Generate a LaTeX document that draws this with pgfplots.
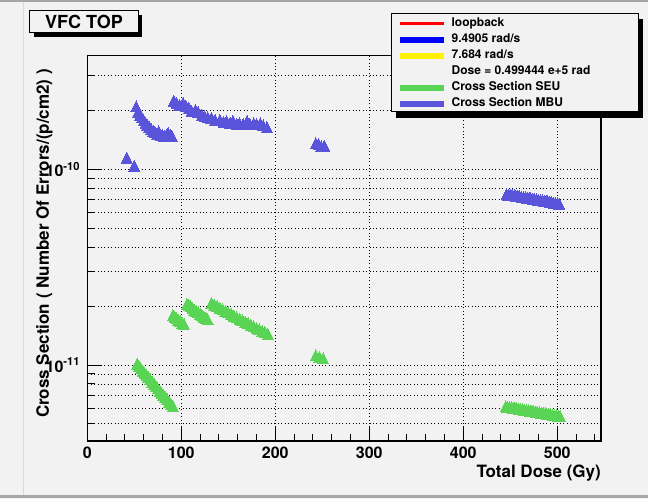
\documentclass[border=0pt]{standalone}
\usepackage{fontspec}
\setmainfont{TeX Gyre Heros}
\usepackage{pgfplots}
\usepackage{pgfplotstable}
\pgfplotsset{compat=1.18}
\definecolor{bg}{RGB}{242,242,242}
\definecolor{seu}{RGB}{89,212,84}
\definecolor{mbu}{RGB}{89,84,217}
\definecolor{lred}{RGB}{255,0,0}
\newcommand{\lent}[1]{\makebox[186pt][l]{\hspace*{8pt}#1}}

\pgfplotstableread{
x y
42 1.12e-10
50 1.02e-10
52 2.05e-10
54 1.93e-10
56 1.86e-10
58 1.80e-10
60 1.74e-10
62 1.69e-10
64 1.65e-10
66 1.61e-10
68 1.57e-10
70 1.54e-10
72 1.51e-10
74 1.48e-10
76 1.53e-10
78 1.47e-10
80 1.46e-10
82 1.45e-10
84 1.46e-10
86 1.50e-10
88 1.47e-10
90 1.45e-10
92 2.19e-10
95 2.14e-10
98 2.09e-10
102 2.13e-10
105 2.05e-10
108 2.01e-10
111 1.94e-10
115 1.97e-10
118 1.92e-10
122 1.86e-10
125 1.82e-10
128 1.80e-10
132 1.79e-10
136 1.75e-10
141 1.75e-10
145 1.71e-10
148 1.72e-10
152 1.69e-10
155 1.73e-10
159 1.67e-10
162 1.68e-10
166 1.67e-10
170 1.72e-10
173 1.66e-10
177 1.68e-10
180 1.66e-10
184 1.68e-10
187 1.64e-10
191 1.61e-10
243 1.33e-10
246 1.32e-10
249 1.28e-10
252 1.29e-10
446 7.30e-11
448 7.27e-11
450 7.25e-11
452 7.22e-11
454 7.19e-11
456 7.16e-11
458 7.14e-11
460 7.11e-11
462 7.08e-11
464 7.05e-11
466 7.03e-11
468 7.00e-11
470 6.97e-11
472 6.94e-11
474 6.92e-11
476 6.89e-11
478 6.86e-11
480 6.83e-11
482 6.81e-11
484 6.78e-11
486 6.75e-11
488 6.72e-11
490 6.70e-11
492 6.67e-11
494 6.64e-11
496 6.61e-11
498 6.59e-11
500 6.56e-11
502 6.53e-11
}\mbudata

\pgfplotstableread{
x y
53 9.91e-12
55 9.65e-12
57 9.41e-12
59 9.17e-12
61 8.93e-12
63 8.70e-12
65 8.48e-12
67 8.26e-12
69 8.05e-12
71 7.84e-12
73 7.64e-12
75 7.44e-12
77 7.25e-12
79 7.07e-12
81 6.88e-12
83 6.71e-12
85 6.54e-12
87 6.37e-12
89 6.21e-12
91 6.05e-12
91 1.76e-11
93 1.73e-11
95 1.70e-11
97 1.67e-11
99 1.64e-11
101 1.61e-11
103 1.58e-11
106 2.01e-11
108 1.98e-11
110 1.95e-11
112 1.91e-11
114 1.88e-11
116 1.85e-11
118 1.82e-11
120 1.79e-11
122 1.76e-11
124 1.73e-11
126 1.71e-11
128 1.68e-11
132 2.03e-11
135 1.99e-11
138 1.96e-11
141 1.92e-11
144 1.89e-11
147 1.85e-11
150 1.82e-11
153 1.79e-11
156 1.75e-11
159 1.72e-11
162 1.69e-11
165 1.66e-11
168 1.63e-11
171 1.60e-11
174 1.57e-11
177 1.54e-11
180 1.52e-11
183 1.49e-11
186 1.46e-11
189 1.44e-11
192 1.41e-11
243 1.10e-11
247 1.08e-11
251 1.06e-11
445 6.02e-12
447 6.00e-12
449 5.97e-12
451 5.95e-12
453 5.93e-12
455 5.91e-12
457 5.88e-12
459 5.86e-12
461 5.84e-12
463 5.82e-12
465 5.79e-12
467 5.77e-12
469 5.75e-12
471 5.72e-12
473 5.70e-12
475 5.68e-12
477 5.66e-12
479 5.63e-12
481 5.61e-12
483 5.59e-12
485 5.56e-12
487 5.54e-12
489 5.52e-12
491 5.50e-12
493 5.47e-12
495 5.45e-12
497 5.43e-12
499 5.41e-12
501 5.38e-12
503 5.36e-12
}\seudata

\begin{document}
\begin{tikzpicture}[x=1pt,y=1pt]
\useasboundingbox (-87.3,-58) rectangle (560.7,441);
\fill[bg] (-87.3,-58) rectangle (560.7,441);
\fill[black!35] (-87.3,439) rectangle (560.7,441);
\fill[black!35] (-87.3,-54) rectangle (560.7,-56.5);
\draw[black!15, line width=0.8pt] (-64.3,-54) -- (-64.3,439);
\begin{axis}[
  at={(0,0)}, anchor=south west,
  scale only axis, width=513.7pt, height=385.3pt,
  ymode=log,
  xmin=0, xmax=546.5, ymin=4.09e-12, ymax=3.80e-10,
  axis line style={line width=1.2pt},
  every tick/.style={black, line width=1pt},
  tick align=inside,
  major tick length=14pt, minor tick length=7.5pt,
  xtick pos=left, ytick pos=left,
  xtick={0,100,200,300,400,500},
  xticklabels={0,100,200,300,400,500},
  minor xtick={20,40,60,80,120,140,160,180,220,240,260,280,320,340,360,380,420,440,460,480,520,540},
  ytick={1e-11,1e-10},
  yticklabels={10\textsuperscript{-11},10\textsuperscript{-10}},
  minor ytick={5e-12,6e-12,7e-12,8e-12,9e-12,2e-11,3e-11,4e-11,5e-11,6e-11,7e-11,8e-11,9e-11,2e-10,3e-10},
  xmajorgrids=true, ymajorgrids=true, yminorgrids=true,
  major grid style={black, line width=0.9pt, dash pattern=on 1pt off 2.4pt},
  minor grid style={black, line width=0.9pt, dash pattern=on 1pt off 2.4pt},
  tick label style={font=\fontsize{16}{16}\selectfont\bfseries},
  xticklabel style={anchor=north, inner sep=0pt, yshift=-6pt},
  yticklabel style={anchor=east, inner sep=0pt, xshift=-7pt},
  label style={font=\fontsize{17}{17}\selectfont\bfseries},
  xlabel={Total Dose (Gy)},
  xlabel style={at={(axis description cs:1,0)}, anchor=base east, inner sep=0pt, yshift=-36pt},
  ylabel={Cross Section ( Number Of Errors/(p/cm2) )},
  ylabel style={at={(axis description cs:-0.0746,0.5126)}, anchor=base, inner sep=0pt},
  legend cell align=left,
  legend style={at={(axis description cs:0.5912,1.1082)}, anchor=north west,
    draw=none, fill=bg,
    font=\fontsize{12}{12}\selectfont\bfseries,
    inner xsep=9pt, inner ysep=3pt, row sep=4pt, column sep=0pt,
    nodes={inner sep=0pt, text height=9pt, text depth=3pt}},
]
\addlegendimage{legend image code/.code={\fill[lred] (0pt,-0.75pt) rectangle (43pt,0.75pt);}}
\addlegendentry{\lent{loopback}}
\addlegendimage{legend image code/.code={\fill[blue] (0pt,-2.5pt) rectangle (43pt,2.5pt);}}
\addlegendentry{\lent{9.4905 rad/s}}
\addlegendimage{legend image code/.code={\fill[yellow] (0pt,-2.5pt) rectangle (43pt,2.5pt);}}
\addlegendentry{\lent{7.684 rad/s}}
\addlegendimage{legend image code/.code={}}
\addlegendentry{\lent{Dose = 0.499444 e+5 rad}}
\addlegendimage{legend image code/.code={\fill[seu] (0pt,-2.5pt) rectangle (43pt,2.5pt);}}
\addlegendentry{\lent{Cross Section SEU}}
\addlegendimage{legend image code/.code={\fill[mbu] (0pt,-2.5pt) rectangle (43pt,2.5pt);}}
\addlegendentry{\lent{Cross Section MBU}}

\addplot[forget plot, only marks, mark=triangle*, mark size=6.35pt,
  mark options={draw=seu, fill=seu, line width=0pt, yscale=1.155}] table[x=x,y=y] {\seudata};
\addplot[forget plot, only marks, mark=triangle*, mark size=6.35pt,
  mark options={draw=mbu, fill=mbu, line width=0pt, yscale=1.155}] table[x=x,y=y] {\mbudata};
\end{axis}
% legend frame and shadow
\draw[black, line width=1pt] (303.7,329) rectangle (550.7,427);
\fill[black] (551.2,322.5) rectangle (556,422);
\fill[black] (309,322.5) rectangle (556,328.5);
% title box
\fill[black] (-53.3,404) rectangle (54.7,426);
\node[draw=black, line width=1pt, fill=bg, minimum width=108pt, minimum height=22pt, inner sep=0pt,
  font=\fontsize{18}{18}\selectfont\bfseries] at (-3.3,419) {VFC TOP};
\end{tikzpicture}
\end{document}
